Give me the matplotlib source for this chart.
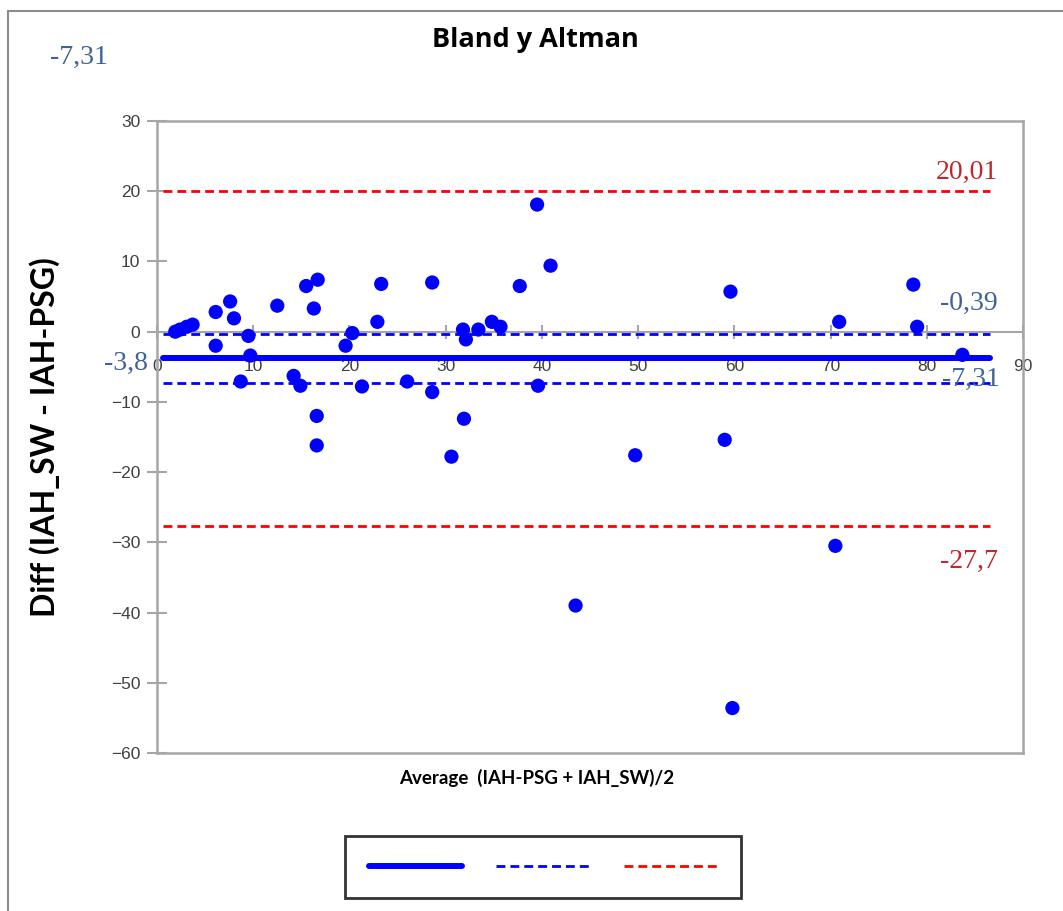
import matplotlib.pyplot as plt
from matplotlib.lines import Line2D
from matplotlib.patches import Rectangle

# average (IAH-PSG + IAH_SW)/2 and difference IAH_SW - IAH-PSG
avg = [1.9, 2.4, 3.1, 3.7, 6.1, 7.6, 8.0, 6.1, 9.5, 9.7, 8.7, 12.5, 15.5, 16.7,
       16.3, 14.2, 14.9, 16.6, 16.6, 19.6, 20.3, 21.3, 22.9, 23.3, 26.0, 28.6,
       28.6, 30.6, 31.8, 32.1, 31.9, 33.4, 34.8, 35.7, 37.7, 39.6, 40.9, 39.5,
       43.5, 49.7, 59.6, 59.0, 59.8, 70.9, 70.5, 78.6, 79.0, 83.7]
diff = [0.0, 0.3, 0.7, 1.0, 2.8, 4.3, 1.9, -2.0, -0.6, -3.4, -7.1, 3.7, 6.5, 7.4,
        3.3, -6.3, -7.7, -12.0, -16.2, -2.0, -0.2, -7.8, 1.4, 6.8, -7.1, 7.0,
        -8.6, -17.8, 0.3, -1.1, -12.4, 0.3, 1.4, 0.7, 6.5, -7.7, 9.4, 18.1,
        -39.0, -17.6, 5.7, -15.4, -53.6, 1.4, -30.5, 6.7, 0.7, -3.3]

mean_diff = -3.8
limit_low = -7.31
limit_high = -0.39
loa_high = 20.01
loa_low = -27.7
line_x = [0.6, 86.6]

fig = plt.figure(figsize=(10.63, 9.11), dpi=100)

# outer chart border
fig.patches.append(Rectangle((8 / 1063, -0.01), 1.1, 1 - 11 / 911 + 0.01,
                             transform=fig.transFigure, fill=False,
                             edgecolor='#8c8c8c', lw=1.5))

ax = fig.add_axes([157 / 1063, 1 - 753 / 911, 866 / 1063, 632 / 911])

ax.plot(line_x, [mean_diff] * 2, color='#0000ff', lw=4.3, solid_capstyle='round', zorder=3)
ax.plot(line_x, [limit_high] * 2, color='#0000ff', lw=2, dashes=(3.2, 1.8), zorder=3)
ax.plot(line_x, [limit_low] * 2, color='#0000ff', lw=2, dashes=(3.2, 1.8), zorder=3)
ax.plot(line_x, [loa_high] * 2, color='#ff0000', lw=2, dashes=(3.2, 1.8), zorder=3)
ax.plot(line_x, [loa_low] * 2, color='#ff0000', lw=2, dashes=(3.2, 1.8), zorder=3)
ax.scatter(avg, diff, s=105, color='#0000ff', edgecolors='none', zorder=4)

ax.set_xlim(0, 90)
ax.set_ylim(-60, 30)
ax.set_xticks(range(0, 100, 10))
ax.set_yticks(range(-60, 40, 10))

for s in ['top', 'right', 'left']:
    ax.spines[s].set_color('#a6a6a6')
    ax.spines[s].set_linewidth(1.8)
ax.spines['bottom'].set_position(('data', 0))
ax.spines['bottom'].set_color('#a6a6a6')
ax.spines['bottom'].set_linewidth(1.5)
# bottom frame of plot area
ax.plot([0, 1], [0, 0], transform=ax.transAxes, color='#a6a6a6', lw=1.8, clip_on=False)

ax.tick_params(axis='y', direction='inout', length=14, width=1.5, color='#a6a6a6',
               labelsize=12.5, labelcolor='#404040', pad=5)
ax.tick_params(axis='x', direction='inout', length=10, width=1.5, color='#a6a6a6',
               labelsize=12.5, labelcolor='#404040', pad=15)
for lab in ax.get_xticklabels() + ax.get_yticklabels():
    lab.set_family('Liberation Sans')

fig.text(535 / 1063, 1 - 40 / 911, 'Bland y Altman', ha='center', va='center',
         fontsize=19.5, fontweight='bold', family='Open Sans')
fig.text(45 / 1063, 1 - 437 / 911, 'Diff (IAH_SW - IAH-PSG)', rotation=90,
         ha='center', va='center', fontsize=23, fontweight='bold', family='Lato')
fig.text(537 / 1063, 1 - 778 / 911, 'Average  (IAH-PSG + IAH_SW)/2',
         ha='center', va='center', fontsize=13.5, fontweight='bold', family='Lato')

blue_txt = '#3f6394'
red_txt = '#c0282e'
tfont = dict(family='Liberation Serif', fontsize=20)
fig.text(998 / 1063, 1 - 172 / 911, '20,01', color=red_txt, ha='right', va='center', **tfont)
fig.text(998 / 1063, 1 - 303 / 911, '-0,39', color=blue_txt, ha='right', va='center', **tfont)
fig.text(1000 / 1063, 1 - 379 / 911, '-7,31', color=blue_txt, ha='right', va='center', **tfont)
fig.text(998 / 1063, 1 - 561 / 911, '-27,7', color=red_txt, ha='right', va='center', **tfont)
fig.text(148 / 1063, 1 - 363 / 911, '-3,8', color=blue_txt, ha='right', va='center', **tfont)
fig.text(50 / 1063, 1 - 57 / 911, '-7,31', color=blue_txt, ha='left', va='center', **tfont)

# legend without labels
handles = [Line2D([], [], color='#0000ff', lw=4.3, solid_capstyle='round'),
           Line2D([], [], color='#0000ff', lw=2, dashes=(3.2, 1.8)),
           Line2D([], [], color='#ff0000', lw=2, dashes=(3.2, 1.8))]
leg = fig.legend(handles, ['', '', ''], ncol=3, loc='center',
                 bbox_to_anchor=(543 / 1063, 1 - 867 / 911), frameon=True,
                 fancybox=False, handlelength=6.7, columnspacing=2.5,
                 handletextpad=0, borderpad=1.7)
leg.get_frame().set_edgecolor('black')
leg.get_frame().set_linewidth(2)

fig.savefig('out.png', dpi=100)
